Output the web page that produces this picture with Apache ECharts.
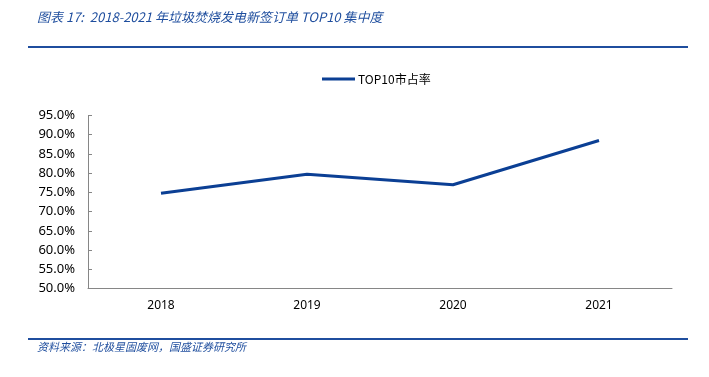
<!DOCTYPE html>
<html><head><meta charset="utf-8">
<script src="https://cdn.jsdelivr.net/npm/echarts@6/dist/echarts.min.js"></script>
<style>html,body{margin:0;padding:0;background:#fff}#c{width:709px;height:377px}</style>
</head><body><div id="c"></div>
<script>
const categories = ['2018', '2019', '2020', '2021'];
const seriesName = 'TOP10市占率';
const shareValues = [74.8, 79.7, 77.0, 88.5];
const titleText = '图表 17:  2018-2021 年垃圾焚烧发电新签订单 TOP10 集中度';
const sourceText = '资料来源：北极星固废网，国盛证券研究所';

const chart = echarts.init(document.getElementById('c'));
chart.setOption({
  animation: false,
  backgroundColor: '#fff',
  legend: {
    top: 68, left: 317,
    itemWidth: 33, itemHeight: 3,
    itemGap: 4,
    icon: 'rect',
    textStyle: { fontSize: 12, color: '#000', fontFamily: 'Noto Sans CJK SC', padding: [0, 0, 0, -2] },
    data: [seriesName]
  },
  grid: { left: 88, right: 37, top: 115.5, bottom: 88.5, containLabel: false },
  xAxis: {
    type: 'category', data: categories, boundaryGap: true,
    axisLine: { lineStyle: { color: '#868686', width: 1 } },
    axisTick: { inside: true, length: 4, lineStyle: { color: '#868686' } },
    axisLabel: { color: '#000', fontSize: 12, margin: 11, fontFamily: 'Noto Sans' }
  },
  yAxis: {
    type: 'value', min: 50, max: 95, interval: 5,
    axisLine: { show: true, lineStyle: { color: '#868686', width: 1 } },
    axisTick: { show: true, inside: true, length: 4, lineStyle: { color: '#868686' } },
    splitLine: { show: false },
    axisLabel: { color: '#000', fontSize: 13, margin: 13, fontFamily: 'Noto Sans',
      formatter: v => v.toFixed(1) + '%' }
  },
  series: [{
    name: seriesName, type: 'line', data: shareValues,
    symbol: 'none', lineStyle: { color: '#0b3f94', width: 3 },
    itemStyle: { color: '#0b3f94' }
  }],
  graphic: [
    { type: 'text', left: 37, top: 11, style: { text: titleText, fill: '#1f4e9e',
      font: 'italic 13px "Noto Sans CJK SC"' } },
    { type: 'rect', shape: { x: 28, y: 46, width: 660, height: 2 }, style: { fill: '#1f4e9e' } },
    { type: 'rect', shape: { x: 28, y: 338, width: 660, height: 2 }, style: { fill: '#1f4e9e' } },
    { type: 'text', left: 37, top: 341, style: { text: sourceText, fill: '#1f4e9e',
      font: 'italic 11px "Noto Sans CJK SC"' } }
  ]
});
</script></body></html>
